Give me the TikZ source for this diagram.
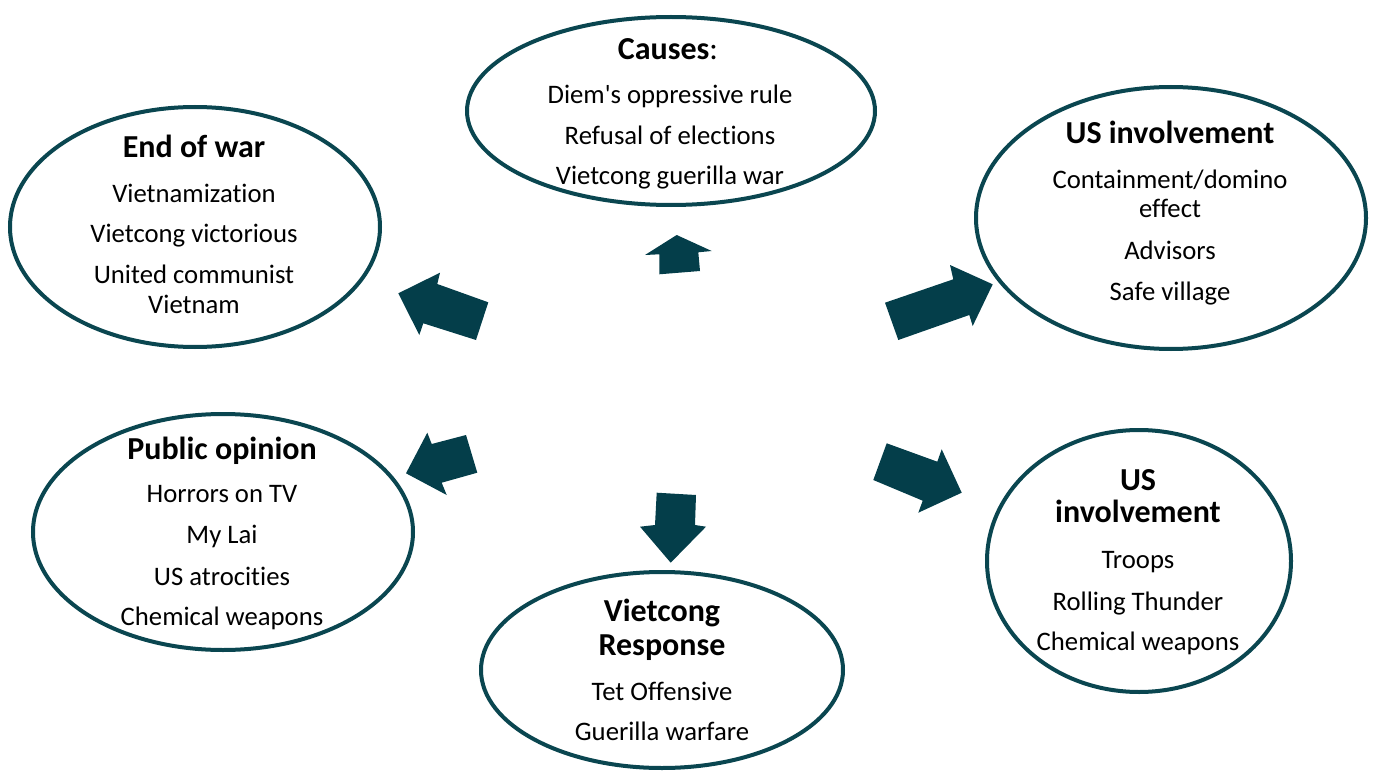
\documentclass[tikz,border=0pt]{standalone}
\usepackage{fontspec}
\setmainfont[Ligatures={NoCommon,TeXOff}]{Carlito}
\usetikzlibrary{shapes.geometric}
\definecolor{arrowc}{RGB}{4,62,74}
\definecolor{ringc}{RGB}{10,70,80}
\begin{document}
\begin{tikzpicture}[x=1pt,y=-1pt,
  ring/.style={ellipse, draw=ringc, line width=4pt, fill=white, inner sep=0pt},
  blk/.style={fill=arrowc, draw=none},
  hd/.style={anchor=base, inner sep=0pt, font=\fontsize{32}{38}\selectfont\bfseries},
  bd/.style={anchor=base, inner sep=0pt, font=\fontsize{26.7}{32}\selectfont}]
\useasboundingbox (0,0) rectangle (1374,773);
% ellipses
\node[ring, minimum width=408pt, minimum height=188pt] (causes) at (671,111) {};
\node[ring, minimum width=370pt, minimum height=240pt] (endwar) at (195,227) {};
\node[ring, minimum width=390pt, minimum height=262pt] (usone) at (1171,218) {};
\node[ring, minimum width=380pt, minimum height=236pt] (public) at (223,532) {};
\node[ring, minimum width=304pt, minimum height=262pt] (ustwo) at (1139,561) {};
\node[ring, minimum width=362pt, minimum height=196pt] (vcresp) at (662,670) {};
% causes
\node[hd] (causesH) at (668,60) {Causes\textmd{:}};
\node[bd] (causes1) at (670,104) {Diem's oppressive rule};
\node[bd] (causes2) at (670,145) {Refusal of elections};
\node[bd] (causes3) at (670,185) {Vietcong guerilla war};
% end of war
\node[hd] (endH) at (194,158) {End of war};
\node[bd] (end1) at (194,202) {Vietnamization};
\node[bd] (end2) at (194,242) {Vietcong victorious};
\node[bd] (end3) at (194,283) {United communist};
\node[bd] (end4) at (194,313) {Vietnam};
% US involvement 1
\node[hd] (usoneH) at (1170,144) {US involvement};
\node[bd] (usone1) at (1170,189) {Containment/domino};
\node[bd] (usone2) at (1170,218) {effect};
\node[bd] (usone3) at (1170,259) {Advisors};
\node[bd] (usone4) at (1170,300) {Safe village};
% public opinion
\node[hd] (publicH) at (222,459) {Public opinion};
\node[bd] (public1) at (222,502) {Horrors on TV};
\node[bd] (public2) at (222,543) {My Lai};
\node[bd] (public3) at (222,585) {US atrocities};
\node[bd] (public4) at (222,625) {Chemical weapons};
% US involvement 2
\node[hd] (ustwoH) at (1138,490) {US};
\node[hd] (ustwoH2) at (1138,522) {involvement};
\node[bd] (ustwo1) at (1138,568) {Troops};
\node[bd] (ustwo2) at (1138,610) {Rolling Thunder};
\node[bd] (ustwo3) at (1138,650) {Chemical weapons};
% vietcong response
\node[hd] (vcH) at (662,621) {Vietcong};
\node[hd] (vcH2) at (662,655) {Response};
\node[bd] (vc1) at (662,700) {Tet Offensive};
\node[bd] (vc2) at (662,740) {Guerilla warfare};
% block arrows
\fill[blk] (398.3,293.3) -- (440,272.7) -- (437.3,284) -- (488.3,302.3) -- (476,340) -- (423.3,323.3) -- (419.3,335) -- cycle;
\fill[blk] (676.7,235) -- (711.7,251) -- (698.3,252.3) -- (700,271) -- (659.3,274.3) -- (659.3,254.3) -- (645,255) -- cycle;
\fill[blk] (992.7,284.3) -- (972.7,326) -- (969.3,315) -- (898.3,340) -- (885,302.7) -- (953.3,279.3) -- (950,265) -- cycle;
\fill[blk] (406,473.3) -- (427.3,432.7) -- (431.7,444) -- (466,435) -- (477.3,472.7) -- (441.7,482.7) -- (446.7,495) -- cycle;
\fill[blk] (670.7,562.7) -- (640,526.7) -- (655,525) -- (656.7,492.7) -- (696,495) -- (695,525) -- (706,526.7) -- cycle;
\fill[blk] (961.7,492.7) -- (918.3,512.7) -- (922.7,500.7) -- (873.3,480) -- (886.7,443.3) -- (937.3,461.7) -- (941.7,449.3) -- cycle;
\end{tikzpicture}
\end{document}
